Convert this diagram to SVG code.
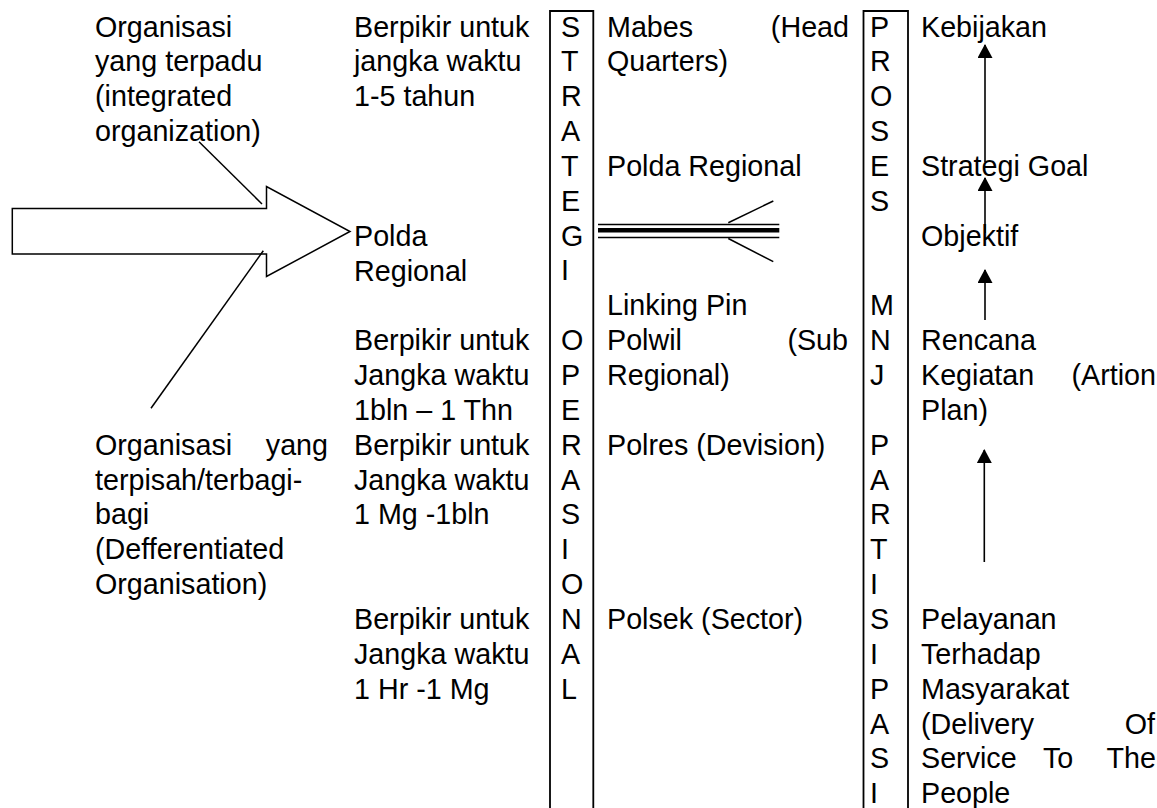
<svg xmlns="http://www.w3.org/2000/svg" width="1157" height="808" viewBox="0 0 1157 808">
  <style>
    text { font-family: "Liberation Sans", Arial, sans-serif; font-size: 28.7px; fill: #000; }
    .ln { fill: none; stroke: #000; stroke-width: 1.5; }
    .box { fill: none; stroke: #000; stroke-width: 1.8; }
    .up { fill: none; stroke: #000; stroke-width: 1.6; marker-end: url(#head); }
    .end { text-anchor: end; }
  </style>
  <defs>
    <marker id="head" markerUnits="userSpaceOnUse" viewBox="0 0 14 15" refX="13" refY="7.5" markerWidth="14" markerHeight="15" orient="auto">
      <path d="M0,0 L14,7.5 L0,15 z" fill="#000"/>
    </marker>
  </defs>
  <rect width="1157" height="808" fill="#fff"/>

  <!-- connectors -->
  <g id="connectors">
    <!-- big hollow arrow pointing at Polda Regional -->
    <polygon class="ln" fill="#fff" points="12.3,208.5 266.5,208.5 266.5,186.5 350,231.5 266.5,276.5 266.5,254 12.3,254"/>
    <line class="ln" x1="199" y1="141.7" x2="262" y2="204"/>
    <line class="ln" x1="263.3" y1="250.7" x2="151" y2="408.3"/>
    <!-- linking pin: triple band and diverging ends -->
    <line x1="598" y1="224.4" x2="779.3" y2="224.4" stroke="#000" stroke-width="1.5"/>
    <line x1="598" y1="230.2" x2="779.3" y2="230.2" stroke="#000" stroke-width="4.6"/>
    <line x1="598" y1="237.4" x2="779.3" y2="237.4" stroke="#000" stroke-width="1.5"/>
    <line class="ln" x1="728.3" y1="222.7" x2="773.3" y2="201"/>
    <line class="ln" x1="728.3" y1="238.5" x2="773.3" y2="261.7"/>
    <!-- upward process arrows -->
    <line class="up" x1="985" y1="162" x2="985" y2="45"/>
    <line class="up" x1="985" y1="233" x2="985" y2="178"/>
    <line class="up" x1="985" y1="320" x2="985" y2="270"/>
    <line class="up" x1="984.3" y1="562" x2="984.3" y2="450"/>
  </g>

  <g id="integrated-org">
    <text x="95" y="36.5">Organisasi</text>
    <text x="95" y="71.4">yang terpadu</text>
    <text x="95" y="106.2">(integrated</text>
    <text x="95" y="141.1">organization)</text>
  </g>

  <g id="polda-left">
    <text x="354" y="245.6">Polda</text>
    <text x="354" y="280.5">Regional</text>
  </g>

  <g id="differentiated-org">
    <text y="454.7"><tspan x="95">Organisasi</tspan><tspan x="328" class="end" text-anchor="end">yang</tspan></text>
    <text x="95" y="489.6">terpisah/terbagi-</text>
    <text x="95" y="524.4">bagi</text>
    <text x="95" y="559.3">(Defferentiated</text>
    <text x="95" y="594.1">Organisation)</text>
  </g>

  <g id="time-strategic">
    <text x="354" y="36.5">Berpikir untuk</text>
    <text x="354" y="71.4">jangka waktu</text>
    <text x="354" y="106.2">1-5 tahun</text>
  </g>
  <g id="time-subregional">
    <text x="354" y="350.2">Berpikir untuk</text>
    <text x="354" y="385">Jangka waktu</text>
    <text x="354" y="419.9">1bln – 1 Thn</text>
  </g>
  <g id="time-division">
    <text x="354" y="454.7">Berpikir untuk</text>
    <text x="354" y="489.6">Jangka waktu</text>
    <text x="354" y="524.4">1 Mg -1bln</text>
  </g>
  <g id="time-sector">
    <text x="354" y="629">Berpikir untuk</text>
    <text x="354" y="663.8">Jangka waktu</text>
    <text x="354" y="698.7">1 Hr -1 Mg</text>
  </g>

  <g id="strategi-operasional">
    <path class="box" d="M550,830 V11 H593.3 V830"/>
    <text y="36.5"><tspan x="561">S</tspan><tspan x="561" dy="34.85">T</tspan><tspan x="561" dy="34.85">R</tspan><tspan x="561" dy="34.85">A</tspan><tspan x="561" dy="34.85">T</tspan><tspan x="561" dy="34.85">E</tspan><tspan x="561" dy="34.85">G</tspan><tspan x="561" dy="34.85">I</tspan></text>
    <text y="350.2"><tspan x="561">O</tspan><tspan x="561" dy="34.85">P</tspan><tspan x="561" dy="34.85">E</tspan><tspan x="561" dy="34.85">R</tspan><tspan x="561" dy="34.85">A</tspan><tspan x="561" dy="34.85">S</tspan><tspan x="561" dy="34.85">I</tspan><tspan x="561" dy="34.85">O</tspan><tspan x="561" dy="34.85">N</tspan><tspan x="561" dy="34.85">A</tspan><tspan x="561" dy="34.85">L</tspan></text>
  </g>

  <g id="levels">
    <text y="36.5"><tspan x="607">Mabes</tspan><tspan x="849" text-anchor="end">(Head</tspan></text>
    <text x="607" y="71.4">Quarters)</text>
    <text x="607" y="175.9">Polda Regional</text>
    <text x="607" y="315.3">Linking Pin</text>
    <text y="350.2"><tspan x="607">Polwil</tspan><tspan x="848" text-anchor="end">(Sub</tspan></text>
    <text x="607" y="385">Regional)</text>
    <text x="607" y="454.7">Polres (Devision)</text>
    <text x="607" y="629">Polsek (Sector)</text>
  </g>

  <g id="proses-partisipasi">
    <path class="box" d="M863.5,830 V11 H908 V830"/>
    <text y="36.5"><tspan x="870">P</tspan><tspan x="870" dy="34.85">R</tspan><tspan x="870" dy="34.85">O</tspan><tspan x="870" dy="34.85">S</tspan><tspan x="870" dy="34.85">E</tspan><tspan x="870" dy="34.85">S</tspan></text>
    <text y="315.3"><tspan x="870">M</tspan><tspan x="870" dy="34.85">N</tspan><tspan x="870" dy="34.85">J</tspan></text>
    <text y="454.7"><tspan x="870">P</tspan><tspan x="870" dy="34.85">A</tspan><tspan x="870" dy="34.85">R</tspan><tspan x="870" dy="34.85">T</tspan><tspan x="870" dy="34.85">I</tspan><tspan x="870" dy="34.85">S</tspan><tspan x="870" dy="34.85">I</tspan><tspan x="870" dy="34.85">P</tspan><tspan x="870" dy="34.85">A</tspan><tspan x="870" dy="34.85">S</tspan><tspan x="870" dy="34.85">I</tspan></text>
  </g>

  <g id="steps">
    <text x="921" y="36.5">Kebijakan</text>
    <text x="921" y="175.9">Strategi Goal</text>
    <text x="921" y="245.6">Objektif</text>
    <text x="921" y="350.2">Rencana</text>
    <text y="385"><tspan x="921">Kegiatan</tspan><tspan x="1156" text-anchor="end">(Artion</tspan></text>
    <text x="921" y="419.9">Plan)</text>
    <text x="921" y="629">Pelayanan</text>
    <text x="921" y="663.8">Terhadap</text>
    <text x="921" y="698.7">Masyarakat</text>
    <text y="733.5"><tspan x="921">(Delivery</tspan><tspan x="1155" text-anchor="end">Of</tspan></text>
    <text y="768.4"><tspan x="921">Service</tspan><tspan x="1043">To</tspan><tspan x="1156" text-anchor="end">The</tspan></text>
    <text x="921" y="803.2">People</text>
  </g>
</svg>
